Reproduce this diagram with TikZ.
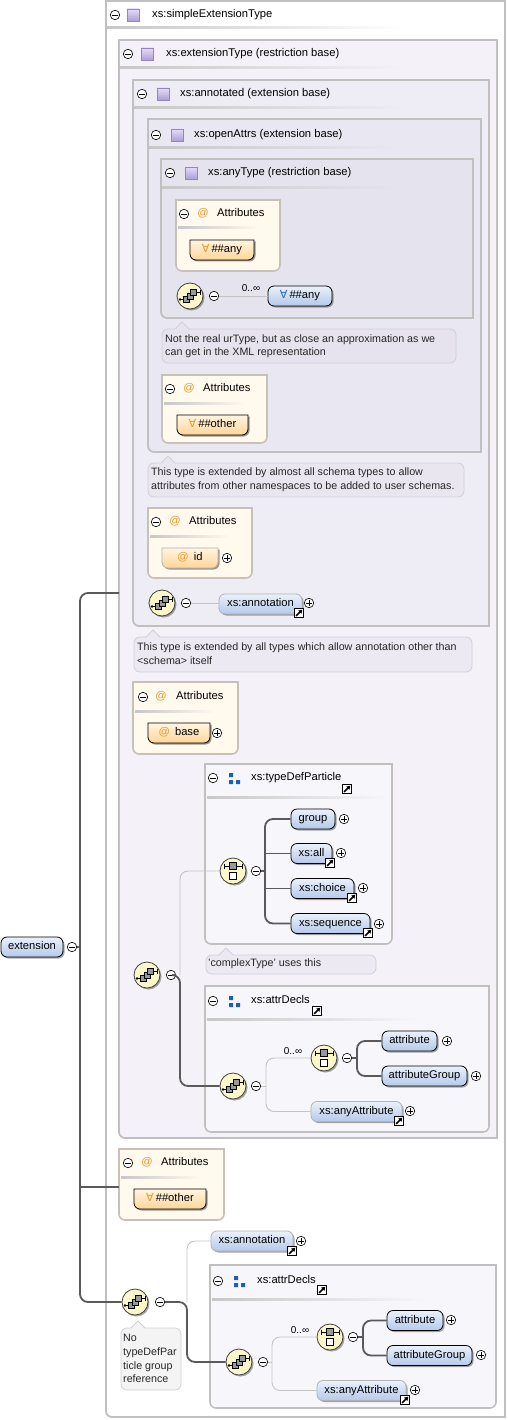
\documentclass[tikz,border=0pt]{standalone}
\usepackage{fontspec}
\setmainfont{Liberation Sans}
\newfontfamily\symf{DejaVu Sans}
\usetikzlibrary{shadows,arrows.meta}
\definecolor{brd}{HTML}{C0C0C0}
\definecolor{fExt}{HTML}{F4F2F8}
\definecolor{fAnn}{HTML}{EEECF4}
\definecolor{fOpen}{HTML}{E9E7F1}
\definecolor{fAny}{HTML}{E5E3EE}
\definecolor{fAttr}{HTML}{FFF9EE}
\definecolor{bAttr}{HTML}{C6C2BA}
\definecolor{fGrp}{HTML}{F7F7FB}
\definecolor{bNote}{HTML}{D2CFDB}
\definecolor{fNa}{HTML}{E6E3EE}
\definecolor{fNb}{HTML}{E9E6F0}
\definecolor{fNc}{HTML}{ECE9F2}
\definecolor{fNd}{HTML}{F4F4F4}
\definecolor{elTop}{HTML}{EAF1FB}
\definecolor{elBot}{HTML}{B5C9EA}
\definecolor{atTop}{HTML}{FFF5E2}
\definecolor{atBot}{HTML}{FFD597}
\definecolor{atSym}{HTML}{E89A2C}
\definecolor{blueSym}{HTML}{2A6AC0}
\definecolor{compF}{HTML}{FCF7C8}
\definecolor{sqTop}{HTML}{E4DCF6}
\definecolor{sqBot}{HTML}{AC9FD6}
\definecolor{sqBrd}{HTML}{9384C4}
\definecolor{darkc}{HTML}{5A5A5A}
\definecolor{lightc}{HTML}{C4C4C4}
\definecolor{mgBlue}{HTML}{1F5FAF}

\newcommand\lblfont{\fontsize{11.2}{13}\selectfont}
\newcommand\ntfont{\fontsize{10.7}{12}\selectfont}
\newcommand\FAsym[1]{{\symf\color{#1}\char"2200}}
\newcommand\atS{{\color{atSym}@}}

\tikzset{
 lbl/.style={anchor=west, inner sep=0pt, text height=7.5pt, text depth=2pt, font=\lblfont},
 atl/.style={inner sep=0pt, text height=7.5pt, text depth=2pt, font=\lblfont, text=atSym},
 nt/.style={anchor=west, inner sep=0pt, text height=7pt, text depth=2pt, font=\ntfont, text=black!85},
 occ/.style={inner sep=0pt, font=\fontsize{10}{11}\selectfont},
 eshadow/.style={drop shadow={shadow xshift=1.5pt, shadow yshift=-1.5pt, opacity=0.5, fill=black!70}},
 elem/.style={draw=black, line width=0.8pt, rounded corners=6pt, top color=elTop, bottom color=elBot,
   minimum height=20pt, inner sep=0pt, text height=7.5pt, text depth=2pt, font=\lblfont, eshadow},
 optelem/.style={elem, draw=black!30},
 comp/.style={circle, draw=black!75, line width=0.8pt, fill=compF, minimum size=26pt, inner sep=0pt, eshadow},
 minusc/.style={circle, draw=black, fill=white, line width=0.6pt, minimum size=9.5pt, inner sep=0pt,
   path picture={\draw[line width=0.8pt] ([xshift=-2.7pt]path picture bounding box.center) -- ([xshift=2.7pt]path picture bounding box.center);}},
 plusc/.style={circle, draw=black, fill=white, line width=0.6pt, minimum size=9.5pt, inner sep=0pt,
   path picture={\draw[line width=0.8pt] ([xshift=-2.7pt]path picture bounding box.center) -- ([xshift=2.7pt]path picture bounding box.center)
     ([yshift=-2.7pt]path picture bounding box.center) -- ([yshift=2.7pt]path picture bounding box.center);}},
 linkic/.style={draw=black, fill=white, line width=0.8pt, minimum size=9.5pt, inner sep=0pt,
   path picture={\draw[line width=1.5pt, -{Triangle[length=3.6pt,width=4.4pt]}] ([shift={(-2.9pt,-2.9pt)}]path picture bounding box.center) -- ([shift={(3.3pt,3.3pt)}]path picture bounding box.center);}},
 darkln/.style={draw=darkc, line width=1.8pt, rounded corners=8pt},
 lightln/.style={draw=lightc, line width=0.9pt, rounded corners=8pt},
 tboxs/.style={draw=brd, line width=1.8pt},
 abox/.style={draw=bAttr, line width=1.6pt},
 gbox/.style={draw=brd, line width=1.6pt},
 seqsym/.pic={
   \draw[line width=0.9pt] (-10,3.5) -- (-4,3.5) (4,-3.5) -- (10,-3.5);
   \fill (-10,3.5) circle (1.3);
   \draw[line width=0.8pt] (10,-6) -- (10,-1);
   \filldraw[fill=black!40, draw=black, line width=0.6pt] (-6.5,0.5) rectangle (-0.5,6.5);
   \filldraw[fill=black!40, draw=black, line width=0.6pt] (-3,-3) rectangle (3,3);
   \filldraw[fill=black!40, draw=black, line width=0.6pt] (0.5,-6.5) rectangle (6.5,-0.5);
 },
 choicesym/.pic={
   \draw[line width=0.9pt] (-9,-5) -- (9,-5);
   \draw[line width=0.8pt] (-9,-7.5) -- (-9,-2.5) (9,-7.5) -- (9,-2.5);
   \filldraw[fill=black!40, draw=black, line width=0.6pt] (-3.5,-8.5) rectangle (3.5,-1.5);
   \filldraw[fill=white, draw=black, line width=0.7pt] (-3.5,1) rectangle (3.5,8);
 },
}

\newcommand\tbox[5]{\draw[tboxs, fill=#1] (#2,#3) -- (#4,#3) -- (#4,#5) [rounded corners=6pt] -- (#2,#5) [sharp corners] -- cycle;}
\newcommand\rbox[6]{\draw[#1, fill=#2] (#3,#4) -- (#5,#4) [rounded corners=6pt] -- (#5,#6) -- (#3,#6) [sharp corners] -- cycle;}
\newcommand\uline[4]{\shade[left color=black!22, right color=#4] (#1,{#3-1}) rectangle (#2,{#3+1});}
\newcommand\tsq[2]{\shade[top color=sqTop, bottom color=sqBot, draw=sqBrd, line width=0.6pt] ({#1-6},{#2-6}) rectangle ({#1+6},{#2+6});}
\newcommand\mgic[2]{\fill[mgBlue] ({#1-6},{#2-5}) rectangle ({#1-2},{#2-1}) ({#1-6},{#2+2}) rectangle ({#1-2},{#2+6}) ({#1+1},{#2+2}) rectangle ({#1+5},{#2+6});}
\newcommand\callout[6]{%
 \draw[draw=bNote, fill=#1, line width=0.8pt, rounded corners=6pt] (#2,#3) rectangle (#4,#5);
 \fill[#1] ({#6-7},{#3+0.9}) -- (#6,{#3-7}) -- ({#6+7},{#3+0.9}) -- cycle;
 \draw[bNote, line width=0.8pt] ({#6-7},#3) -- (#6,{#3-7}) -- ({#6+7},#3);}
\newcommand\attrnode[6]{%
 \fill[black, opacity=0.4] ({#2-#4/2+1.5},{#3-10+1.5}) -- ({#2+#4/2+1.5},{#3-10+1.5}) [rounded corners=6pt] -- ({#2+#4/2+1.5},{#3+10+1.5}) -- ({#2-#4/2+1.5},{#3+10+1.5}) [sharp corners] -- cycle;
 \draw[#6, line width=0.8pt, top color=atTop, bottom color=atBot] ({#2-#4/2},{#3-10}) -- ({#2+#4/2},{#3-10}) [rounded corners=6pt] -- ({#2+#4/2},{#3+10}) -- ({#2-#4/2},{#3+10}) [sharp corners] -- cycle;
 \node[lbl, anchor=center, minimum width=#4pt, minimum height=20pt] (#1) at (#2,#3) {#5};}

\begin{document}
\begin{tikzpicture}[x=1pt,y=-1pt]
\useasboundingbox (0,0) rectangle (507,1420);
\fill[white] (0,0) rectangle (507,1420);
% ---------- type boxes
\tbox{white}{106}{1}{505}{1417}
\tbox{fExt}{119}{40}{497}{1138}
\tbox{fAnn}{133}{80}{489}{626}
\tbox{fOpen}{148}{119}{481}{452}
\tbox{fAny}{161}{159}{473}{318}
\uline{107}{405}{28}{white}
\uline{120}{405}{68}{fExt}
\uline{134}{403}{108}{fAnn}
\uline{149}{400}{148}{fOpen}
\uline{162}{398}{188}{fAny}
\node[minusc] (hm1) at (115,15) {}; \tsq{133}{15} \node[lbl] (h1) at (152,15) {xs:simpleExtensionType};
\node[minusc] (hm2) at (128,54) {}; \tsq{147}{54} \node[lbl] (h2) at (166,54) {xs:extensionType (restriction base)};
\node[minusc] (hm3) at (142,94) {}; \tsq{163}{94} \node[lbl] (h3) at (180,94) {xs:annotated (extension base)};
\node[minusc] (hm4) at (156,135) {}; \tsq{177}{135} \node[lbl] (h4) at (194,135) {xs:openAttrs (extension base)};
\node[minusc] (hm5) at (170,173) {}; \tsq{191}{173} \node[lbl] (h5) at (208,173) {xs:anyType (restriction base)};

% ---------- anyType content
\rbox{abox}{fAttr}{176}{200}{280}{271}
\node[minusc] (am1) at (184,214) {}; \node[atl] (aa1) at (203,214) {@}; \node[lbl] (at1) at (217,214) {Attributes};
\uline{178}{258}{228}{fAttr}
\attrnode{aAny}{222}{250}{64}{\FAsym{atSym}\,\#\#any}{black}
\node[comp] (sq1) at (190,296) {}; \pic at (sq1) {seqsym};
\node[minusc] (sm1) at (214,296) {};
\node[elem, minimum width=64pt] (any1) at (300,296) {\FAsym{blueSym}\,\#\#any};
\node[occ] (o1) at (251,288) {0..∞};
\draw[lightln] (sm1.east) -- (any1.west |- sm1.east);

\callout{fNa}{162}{329}{456}{363}{182}
\node[nt] (n1a) at (165,340) {Not the real urType, but as close an approximation as we};
\node[nt] (n1b) at (165,353) {can get in the XML representation};

% ---------- openAttrs attributes
\rbox{abox}{fAttr}{162}{375}{267}{443}
\node[minusc] (am2) at (170,389) {}; \node[atl] (aa2) at (189,389) {@}; \node[lbl] (at2) at (203,389) {Attributes};
\uline{164}{245}{403}{fAttr}
\attrnode{aOth1}{212.5}{425}{71}{\FAsym{atSym}\,\#\#other}{black}

\callout{fNb}{148}{463}{464}{497}{168}
\node[nt] (n2a) at (151,473) {This type is extended by almost all schema types to allow};
\node[nt] (n2b) at (151,487) {attributes from other namespaces to be added to user schemas.};

% ---------- annotated content
\rbox{abox}{fAttr}{148}{508}{252}{578}
\node[minusc] (am3) at (156,522) {}; \node[atl] (aa3) at (175,522) {@}; \node[lbl] (at3) at (189,522) {Attributes};
\uline{150}{230}{536}{fAttr}
\attrnode{aId}{190}{558}{56}{\atS\hspace{5pt}id}{black!30}
\node[plusc] (pId) at (227,558) {};
\node[comp] (sqN) at (162,603) {}; \pic at (sqN) {seqsym};
\node[minusc] (smN) at (186,603) {};
\node[optelem, minimum width=83pt] (ann1) at (260.5,604) {xs:annotation};
\node[linkic] (lAnn1) at (299,613) {};
\node[plusc] (pAnn1) at (309,603) {};
\draw[lightln] (smN.east) -- (ann1.west |- smN.east);

\callout{fNc}{134}{637}{472}{672}{153}
\node[nt] (n3a) at (137,648) {This type is extended by all types which allow annotation other than};
\node[nt] (n3b) at (137,662) {<schema> itself};

% ---------- extensionType content
\rbox{abox}{fAttr}{133}{682}{238}{754}
\node[minusc] (am4) at (143,697) {}; \node[atl] (aa4) at (161,697) {@}; \node[lbl] (at4) at (176,697) {Attributes};
\uline{135}{215}{711}{fAttr}
\attrnode{aBase}{179}{733}{62}{\atS\hspace{5pt}base}{black}
\node[plusc] (pBase) at (217,733) {};

% typeDefParticle
\rbox{gbox}{fGrp}{205}{764}{392}{944}
\node[minusc] (gm1) at (213,778) {}; \mgic{235}{778} \node[lbl] (g1) at (251,778) {xs:typeDefParticle};
\node[linkic] (lg1) at (347,789) {};
\uline{207}{390}{797}{fGrp}
\node[comp] (chT) at (233,871) {}; \pic at (chT) {choicesym};
\node[minusc] (chTm) at (256,871) {};
\node[elem, minimum width=44pt] (grpT) at (313,819) {group};
\node[plusc] (pGrp) at (344,819) {};
\node[elem, minimum width=41pt] (allT) at (311.5,853.5) {xs:all};
\node[linkic] (lAll) at (330,863) {};
\node[plusc] (pAll) at (341,853) {};
\node[elem, minimum width=63pt] (choT) at (322.5,888.5) {xs:choice};
\node[linkic] (lCho) at (352,898) {};
\node[plusc] (pCho) at (363,888) {};
\node[elem, minimum width=79pt] (seqT) at (330.5,923.5) {xs:sequence};
\node[linkic] (lSeq) at (368,933) {};
\node[plusc] (pSeq) at (379,924) {};
\coordinate (kT) at (265,871);
\draw[darkln] (chTm.east) -- (kT);
\draw[darkln] (grpT.west) -| (kT) |- (seqT.west);
\draw[darkln] (allT.west) -- (allT.west -| kT);
\draw[darkln] (choT.west) -- (choT.west -| kT);

\callout{fNc}{206}{955}{376}{974}{226}
\node[nt] (n4) at (208,964) {{\char"27}complexType{\char"27} uses this};

\node[comp] (sqE) at (147,975) {}; \pic at (sqE) {seqsym};
\node[minusc] (smE) at (171,975) {};

% attrDecls
\rbox{gbox}{fGrp}{205}{986}{489}{1132}
\node[minusc] (gm2) at (213,1001) {}; \mgic{235}{1001} \node[lbl] (g2) at (251,1001) {xs:attrDecls};
\node[linkic] (lg2) at (317,1011) {};
\uline{207}{420}{1019}{fGrp}
\node[comp] (sqA) at (233,1086) {}; \pic at (sqA) {seqsym};
\node[minusc] (smA) at (256,1086) {};
\node[comp] (chA) at (324,1058) {}; \pic at (chA) {choicesym};
\node[minusc] (chAm) at (347,1058) {};
\node[occ] (o2) at (293,1051) {0..∞};
\node[elem, minimum width=55pt] (attA) at (409.5,1041) {attribute};
\node[plusc] (pAttA) at (447,1041) {};
\node[elem, minimum width=85pt] (agA) at (424.5,1076) {attributeGroup};
\node[plusc] (pAgA) at (476,1076) {};
\node[optelem, minimum width=91pt] (anyA) at (356.5,1111.5) {xs:anyAttribute};
\node[linkic] (lAnyA) at (399,1121) {};
\node[plusc] (pAnyA) at (410,1111) {};
\coordinate (jA) at (266,1086);
\coordinate (kA) at (357,1058);
\draw[lightln] (smA.east) -- (jA);
\draw[lightln] (chA.west) -| (jA) |- (anyA.west);
\draw[darkln] (chAm.east) -- (kA);
\draw[darkln] (attA.west) -| (kA) |- (agA.west);

\coordinate (jE) at (180,975);
\draw[lightln] (chT.west) -| (jE);
\draw[darkln] (smE.east) -- (jE) |- (sqA.west);

% ---------- simpleExtensionType attributes
\rbox{abox}{fAttr}{119}{1149}{224}{1220}
\node[minusc] (am5) at (128,1163) {}; \node[atl] (aa5) at (147,1163) {@}; \node[lbl] (at5) at (161,1163) {Attributes};
\uline{121}{200}{1177}{fAttr}
\attrnode{aOth2}{170}{1199}{72}{\FAsym{atSym}\,\#\#other}{black}

% ---------- lower sequence
\node[comp] (sqL) at (135,1302) {}; \pic at (sqL) {seqsym};
\node[minusc] (smL) at (160,1302) {};
\node[optelem, minimum width=82pt] (ann2) at (252,1241) {xs:annotation};
\node[linkic] (lAnn2) at (292,1251) {};
\node[plusc] (pAnn2) at (301,1241) {};

\callout{fNd}{121}{1328}{181}{1390}{138}
\node[nt] (n5a) at (123,1339) {No};
\node[nt] (n5b) at (123,1353) {typeDefPar};
\node[nt] (n5c) at (123,1367) {ticle group};
\node[nt] (n5d) at (123,1380) {reference};

\rbox{gbox}{fGrp}{210}{1265}{496}{1408}
\node[minusc] (gm3) at (218,1281) {}; \mgic{240}{1281} \node[lbl] (g3) at (257,1281) {xs:attrDecls};
\node[linkic] (lg3) at (322,1290) {};
\uline{212}{425}{1299}{fGrp}
\node[comp] (sq2) at (239,1362) {}; \pic at (sq2) {seqsym};
\node[minusc] (sm2) at (263,1362) {};
\node[comp] (ch2) at (330,1337) {}; \pic at (ch2) {choicesym};
\node[minusc] (ch2m) at (353,1337) {};
\node[occ] (o3) at (300,1330) {0..∞};
\node[elem, minimum width=56pt] (att2) at (415,1320.5) {attribute};
\node[plusc] (pAtt2) at (451,1320) {};
\node[elem, minimum width=85pt] (ag2) at (429.5,1355.5) {attributeGroup};
\node[plusc] (pAg2) at (481,1355) {};
\node[optelem, minimum width=89pt] (any2) at (361.5,1390.5) {xs:anyAttribute};
\node[linkic] (lAny2) at (405,1400) {};
\node[plusc] (pAny2) at (415,1390) {};
\coordinate (j2) at (272,1362);
\coordinate (k2) at (363,1337);
\draw[lightln] (sm2.east) -- (j2);
\draw[lightln] (ch2.west) -| (j2) |- (any2.west);
\draw[darkln] (ch2m.east) -- (k2);
\draw[darkln] (att2.west) -| (k2) |- (ag2.west);

\coordinate (jL) at (187,1302);
\draw[lightln] (ann2.west) -| (jL);
\draw[darkln] (smL.east) -- (jL) |- (sq2.west);

% ---------- root element and trunk
\node[elem, minimum width=62pt] (ext) at (32,947) {extension};
\node[minusc] (extm) at (72,947) {};
\coordinate (tTop) at (119,593);
\coordinate (tJ) at (80,947);
\coordinate (tAtt) at (119,1187);
\draw[darkln] (tTop) -| (tJ) |- (sqL.west);
\draw[darkln] (extm.east) -- (tJ);
\draw[darkln] (tAtt) -- (tAtt -| tJ);
\end{tikzpicture}
\end{document}
